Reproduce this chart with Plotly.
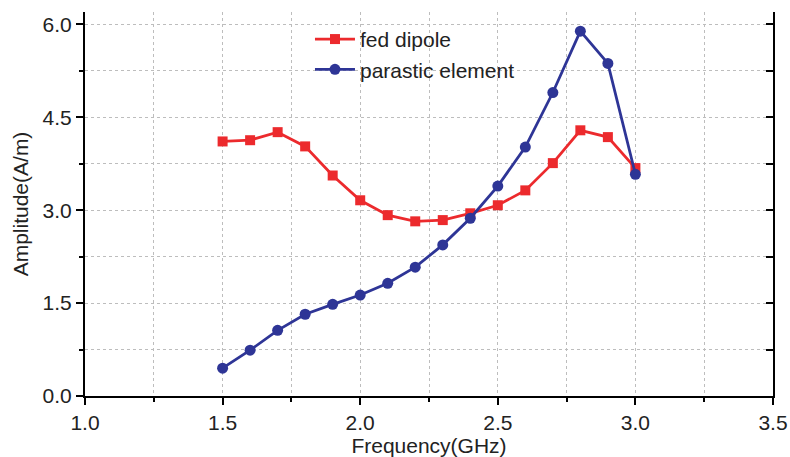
import plotly.graph_objects as go

freq = [1.5, 1.6, 1.7, 1.8, 1.9, 2.0, 2.1, 2.2, 2.3, 2.4, 2.5, 2.6, 2.7, 2.8, 2.9, 3.0]
fed_dipole = [4.11, 4.13, 4.26, 4.03, 3.56, 3.16, 2.92, 2.82, 2.84, 2.95, 3.08, 3.32, 3.76, 4.29, 4.18, 3.68]
parasitic = [0.45, 0.74, 1.06, 1.32, 1.48, 1.63, 1.82, 2.08, 2.44, 2.87, 3.39, 4.02, 4.90, 5.89, 5.37, 3.58]
x_ticks = [1.0, 1.5, 2.0, 2.5, 3.0, 3.5]
y_ticks = [0.0, 1.5, 3.0, 4.5, 6.0]

RED = "#ec2a2d"
BLUE = "#2e3596"
FONT = "Liberation Sans, Arial, sans-serif"
FS = 21
GRIDC = "#bdbdbd"

fig = go.Figure()
fig.add_trace(go.Scatter(x=freq, y=fed_dipole, mode="lines+markers", name="fed dipole",
                         line=dict(color=RED, width=2.8),
                         marker=dict(symbol="square", size=10, color=RED)))
fig.add_trace(go.Scatter(x=freq, y=parasitic, mode="lines+markers", name="parastic element",
                         line=dict(color=BLUE, width=2.8),
                         marker=dict(symbol="circle", size=11, color=BLUE)))
# invisible trace for right axis
fig.add_trace(go.Scatter(x=[None], y=[None], yaxis="y2", showlegend=False, hoverinfo="skip"))

fig.update_layout(
    width=790, height=457,
    margin=dict(l=85, r=17, t=12, b=61),
    paper_bgcolor="white", plot_bgcolor="white",
    font=dict(family=FONT, size=FS, color="#222"),
    showlegend=True,
    legend=dict(x=0.327, y=0.982, xanchor="left", yanchor="top",
                bgcolor="rgba(0,0,0,0)", font=dict(size=FS), tracegroupgap=0,
                itemwidth=40),
    xaxis=dict(range=[1.0, 3.5], tickvals=x_ticks, ticktext=[f"{v:.1f}" for v in x_ticks],
               automargin=False,
               showline=True, linecolor="black", linewidth=2,
               ticks="outside", ticklen=7, tickwidth=1.5, tickcolor="black",
               tickfont=dict(size=FS),
               showgrid=True, gridcolor=GRIDC, griddash="3px,3px", gridwidth=1,
               minor=dict(dtick=0.25, tick0=1.0, ticks="outside", ticklen=4, tickwidth=1.5,
                          tickcolor="black", showgrid=True, gridcolor=GRIDC, griddash="3px,3px"),
               title=dict(text="Frequency(GHz)", standoff=0, font=dict(size=FS)),
               zeroline=False),
    yaxis=dict(range=[0, 6.2], tickvals=y_ticks, ticktext=[f"{v:.1f}" for v in y_ticks],
               automargin=False,
               showline=True, linecolor="black", linewidth=2,
               ticks="outside", ticklen=7, tickwidth=1.5, tickcolor="black",
               tickfont=dict(size=FS),
               showgrid=True, gridcolor=GRIDC, griddash="3px,3px", gridwidth=1,
               minor=dict(dtick=0.75, tick0=0, ticks="outside", ticklen=4, tickwidth=1.5,
                          tickcolor="black", showgrid=True, gridcolor=GRIDC, griddash="3px,3px"),
               title=dict(text="Amplitude(A/m)", standoff=8, font=dict(size=FS)),
               zeroline=False),
    yaxis2=dict(range=[0, 6.2], overlaying="y", side="right", anchor="x",
                showline=True, linecolor="black", linewidth=2,
                tickvals=y_ticks, showticklabels=False,
                ticks="inside", ticklen=7, tickwidth=1.5, tickcolor="black",
                minor=dict(dtick=0.75, tick0=0, ticks="inside", ticklen=7, tickwidth=1.5, tickcolor="black"),
                showgrid=False, zeroline=False),
)

fig.write_html("out.html")
